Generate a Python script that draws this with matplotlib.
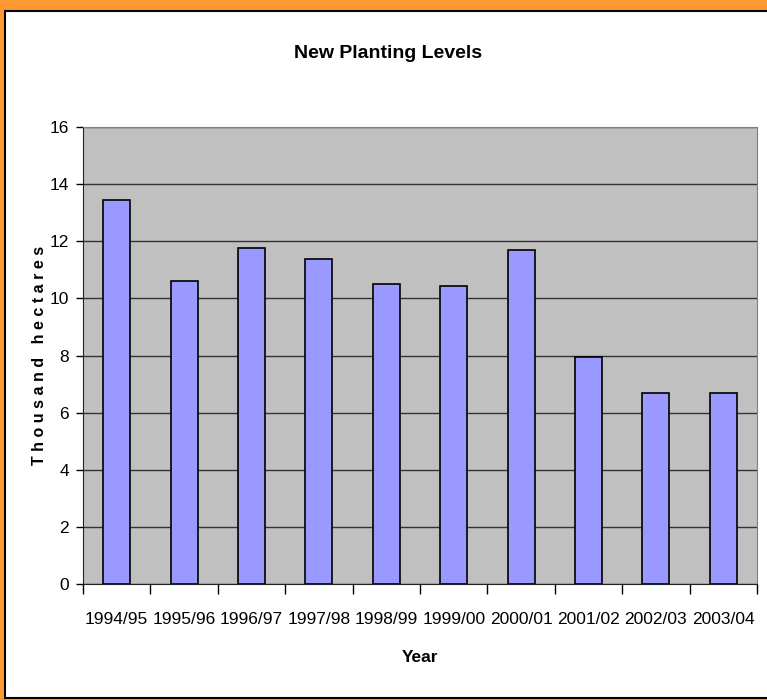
import matplotlib.pyplot as plt
from matplotlib.patches import Rectangle
import numpy as np

plt.rcParams['font.family'] = ['Liberation Sans', 'DejaVu Sans']

years = ["1994/95", "1995/96", "1996/97", "1997/98", "1998/99",
         "1999/00", "2000/01", "2001/02", "2002/03", "2003/04"]
planting = [13.45, 10.61, 11.78, 11.39, 10.49, 10.42, 11.71, 7.96, 6.68, 6.68]
y_ticks = [0, 2, 4, 6, 8, 10, 12, 14, 16]

W, H = 767, 700
fig = plt.figure(figsize=(W / 100, H / 100), dpi=100, facecolor='#FF9933')

# white chart area with black frame, behind the axes
fig.patches.append(Rectangle((5 / W, 2 / H), 1.0, 1 - 13 / H, transform=fig.transFigure,
                             facecolor='white', edgecolor='black', linewidth=1.5, zorder=-10))

ax = fig.add_axes([83 / W, 1 - 584 / H, (757 - 83) / W, (584 - 127) / H])
ax.set_facecolor('#C0C0C0')

x = np.arange(len(years))
ax.bar(x, planting, width=0.4, color='#9999FF', edgecolor='black', linewidth=1.2, zorder=3)

ax.set_xlim(-0.5, len(years) - 0.5)
ax.set_ylim(0, 16)
ax.set_yticks(y_ticks)
ax.yaxis.grid(True, color='#333333', linewidth=1)
ax.set_axisbelow(True)

ax.set_xticks(np.arange(len(years) + 1) - 0.5, minor=False)
ax.set_xticklabels([])
ax.set_xticks(x, minor=True)
ax.set_xticklabels(years, minor=True, fontsize=12.5)
ax.tick_params(axis='x', which='major', length=7, width=1, direction='out')
ax.tick_params(axis='x', which='minor', length=0, pad=20)
ax.tick_params(axis='y', length=5, width=1, labelsize=12.5, pad=5)

for s in ['top', 'right']:
    ax.spines[s].set_color('#808080')
for s in ['left', 'bottom']:
    ax.spines[s].set_color('#222222')

fig.text(388 / W, 1 - 53 / H, "New Planting Levels", ha='center', va='center',
         fontsize=14, fontweight='bold')
fig.text(420 / W, 1 - 658 / H, "Year", ha='center', va='center', fontsize=12.5, fontweight='bold')
fig.text(40 / W, 1 - 355 / H, "T h o u s a n d   h e c t a r e s", ha='center', va='center',
         rotation=90, fontsize=11.5, fontweight='bold')

fig.savefig("out.png", dpi=100, facecolor=fig.get_facecolor())
